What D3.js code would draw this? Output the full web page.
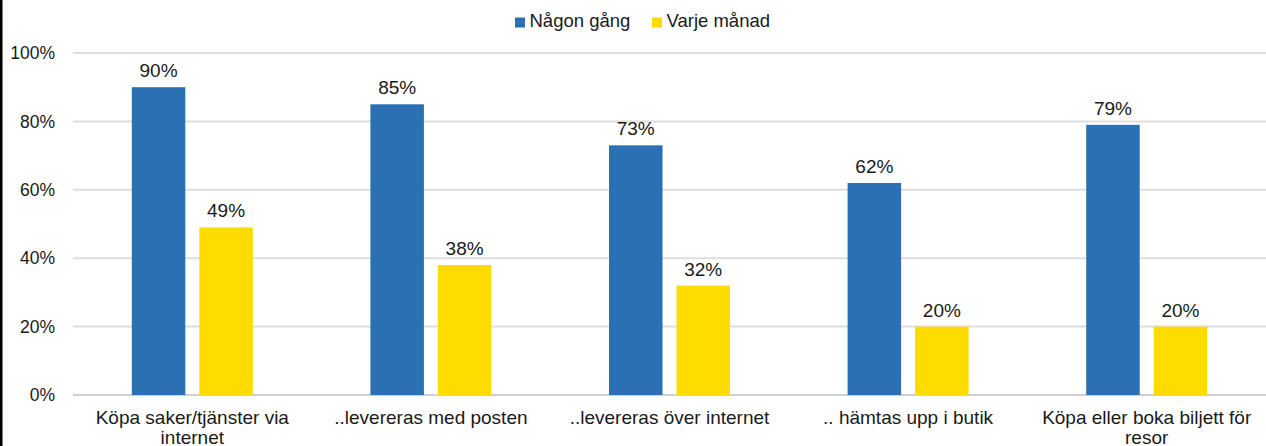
<!DOCTYPE html>
<html>
<head>
<meta charset="utf-8">
<script src="https://cdn.jsdelivr.net/npm/d3@7/dist/d3.min.js"></script>
<style>
  html, body { margin: 0; padding: 0; background: #fff; }
  svg { display: block; font-family: "Liberation Sans", Arial, sans-serif; }
</style>
</head>
<body>
<svg id="chart" width="1266" height="446"></svg>
<script>
// Survey answers: share who have ever / monthly done each activity
const categories = [
  "Köpa saker/tjänster via internet",
  "..levereras med posten",
  "..levereras över internet",
  ".. hämtas upp i butik",
  "Köpa eller boka biljett för resor"
];
const seriesNames = ["Någon gång", "Varje månad"];
const nagonGang = [90, 85, 73, 62, 79];
const varjeManad = [49, 38, 32, 20, 20];
const yTicks = [0, 20, 40, 60, 80, 100];
const colors = ["#2b70b2", "#ffdc00"];

const svg = d3.select("#chart");
const W = 1266, H = 446;
const margin = { top: 53, right: 0, bottom: 51, left: 73 };
const plotW = W - margin.left - margin.right;
const plotH = H - margin.top - margin.bottom;

const g = svg.append("g").attr("transform", `translate(${margin.left},${margin.top})`);

const x0 = d3.scaleBand().domain(categories).range([0, plotW]).paddingInner(0).paddingOuter(0);
const x1 = d3.scaleBand().domain(seriesNames).range([0, 121]).paddingInner(0.207);
const y = d3.scaleLinear().domain([0, 100]).range([plotH, 0]);

// Horizontal gridlines
g.append("g").selectAll("line").data(yTicks).join("line")
  .attr("x1", 0).attr("x2", plotW)
  .attr("y1", d => y(d)).attr("y2", d => y(d))
  .attr("stroke", d => d === 0 ? "#d0d0d0" : "#dedede")
  .attr("stroke-width", 2);

// Y axis labels
const yAxis = d3.axisLeft(y).tickValues(yTicks).tickFormat(d => d + "%").tickSize(0).tickPadding(18);
const ya = g.append("g").call(yAxis);
ya.select(".domain").remove();
ya.selectAll("text").attr("font-size", 17.5).attr("fill", "#1a1a1a")
  .attr("font-family", "'Liberation Sans', Arial, sans-serif");

// Bars
const rows = categories.map((c, i) => ({ cat: c, vals: [nagonGang[i], varjeManad[i]] }));
const groups = g.append("g").selectAll("g").data(rows).join("g")
  .attr("transform", d => `translate(${x0(d.cat) + x0.bandwidth() / 2 - 60.5},0)`);

groups.selectAll("rect").data(d => d.vals.map((v, j) => ({ s: seriesNames[j], v, j }))).join("rect")
  .attr("x", d => x1(d.s))
  .attr("width", x1.bandwidth())
  .attr("y", d => y(d.v))
  .attr("height", d => plotH - y(d.v))
  .attr("fill", d => colors[d.j]);

groups.selectAll("text.val").data(d => d.vals.map((v, j) => ({ s: seriesNames[j], v, j }))).join("text")
  .attr("class", "val")
  .attr("x", d => x1(d.s) + x1.bandwidth() / 2)
  .attr("y", d => y(d.v) - 10)
  .attr("text-anchor", "middle")
  .attr("font-size", 19)
  .attr("fill", "#1a1a1a")
  .text(d => d.v + "%");

// Category labels, wrapped to the band
const catText = g.append("g").selectAll("text").data(categories).join("text")
  .attr("x", d => x0(d) + x0.bandwidth() / 2)
  .attr("y", plotH + 29)
  .attr("text-anchor", "middle")
  .attr("font-size", 19)
  .attr("fill", "#1a1a1a");

catText.each(function(d) {
  const t = d3.select(this);
  const words = d.split(" ");
  const maxW = 228;
  let line = [];
  let tspan = t.append("tspan").attr("x", x0(d) + x0.bandwidth() / 2).attr("dy", 0);
  for (const w of words) {
    line.push(w);
    tspan.text(line.join(" "));
    if (tspan.node().getComputedTextLength() > maxW && line.length > 1) {
      line.pop();
      tspan.text(line.join(" "));
      line = [w];
      tspan = t.append("tspan").attr("x", x0(d) + x0.bandwidth() / 2).attr("dy", 19.5).text(w);
    }
  }
});

// Legend
const legend = svg.append("g").attr("transform", "translate(515,0)");
const legX = [0, 137];
seriesNames.forEach((s, i) => {
  const lg = legend.append("g").attr("transform", `translate(${legX[i]},0)`);
  lg.append("rect").attr("x", 0).attr("y", 17.5).attr("width", 10).attr("height", 10).attr("fill", colors[i]);
  lg.append("text").attr("x", 14.5).attr("y", 27).attr("font-size", 18.5).attr("fill", "#1a1a1a").text(s);
});

// Left frame edge
svg.append("line").attr("x1", 1.25).attr("x2", 1.25).attr("y1", 0).attr("y2", H)
  .attr("stroke", "#000").attr("stroke-width", 2.5);
</script>
</body>
</html>
